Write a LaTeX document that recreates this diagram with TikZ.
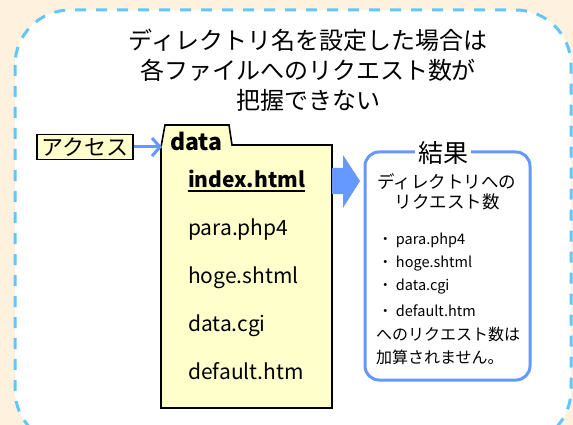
\documentclass[tikz,border=0pt]{standalone}
\usepackage{fontspec}
\setmainfont{Noto Sans CJK JP}
\usetikzlibrary{arrows.meta}
\definecolor{bgc}{HTML}{FEF2DF}
\definecolor{dashc}{HTML}{62C6F8}
\definecolor{bluec}{HTML}{6699FF}
\definecolor{yelc}{HTML}{FFFFCC}
\tikzset{
  txt/.style={inner sep=0pt},
  fname/.style={txt, anchor=base west, font=\fontsize{21}{21}\selectfont},
  litem/.style={txt, anchor=west, font=\fontsize{14.5}{14.5}\selectfont},
  lnote/.style={txt, anchor=west, font=\fontsize{16}{16}\selectfont},
}
\begin{document}
\begin{tikzpicture}[x=1pt,y=-1pt]
\fill[bgc] (0,0) rectangle (573,425);
\useasboundingbox (0,0) rectangle (573,425);
\begin{scope}
\clip (0,0) rectangle (573,425);
\draw[dashc, line width=3pt, fill=white, rounded corners=55pt, dash pattern=on 11pt off 10pt] (15,10) rectangle (571,445);
\end{scope}

\node[txt, align=center, font=\fontsize{24}{30}\selectfont] (title) at (308,70)
  {ディレクトリ名を設定した場合は\\各ファイルへのリクエスト数が\\把握できない};

\node[draw=black, line width=1.2pt, fill=yelc, inner sep=0pt, minimum width=96pt, minimum height=25pt,
  font=\fontsize{22}{22}\selectfont] (access) at (85,147) {アクセス};

\draw[black, line width=1.6pt, fill=yelc] (161,408) -- (161,147) -- (165,125) -- (229,125) -- (232,145) -- (332,145) -- (332,408) -- cycle;
\coordinate (tabL) at (162,147);
\draw[bluec, line width=3pt, -{Straight Barb[length=8pt,width=18pt,line width=3pt]}] (access.east) -- (tabL);

\node[txt, anchor=base west, font=\bfseries\fontsize{23}{23}\selectfont] (dname) at (170,150) {data};

\node[fname, font=\bfseries\fontsize{21}{21}\selectfont] (f1) at (188,187) {index.html};
\draw[line width=2pt] ([yshift=-4pt]f1.base west) -- ([yshift=-4pt]f1.base east);
\node[fname] (f2) at (188,235) {para.php4};
\node[fname] (f3) at (188,283) {hoge.shtml};
\node[fname] (f4) at (188,331) {data.cgi};
\node[fname] (f5) at (188,379) {default.htm};

\fill[bluec] (332,168) -- (343,168) -- (343,155) -- (360,181) -- (343,208) -- (343,194) -- (332,194) -- cycle;

\node[draw=bluec, line width=3pt, rounded corners=14pt, fill=white, minimum width=165pt, minimum height=228pt] (result) at (447.5,266) {};
\node[fill=white, inner xsep=3pt, inner ysep=0pt, font=\fontsize{25}{25}\selectfont] (kekka) at (443,153) {結果};

\node[txt, align=center, font=\fontsize{17.5}{20}\selectfont] (rtitle) at (447,192) {ディレクトリへの\\リクエスト数};

\node[litem] (l1) at (378,240) {・ para.php4};
\node[litem] (l2) at (378,263.5) {・ hoge.shtml};
\node[litem] (l3) at (378,287) {・ data.cgi};
\node[litem] (l4) at (378,310.5) {・ default.htm};
\node[lnote] (n1) at (376,334) {へのリクエスト数は};
\node[lnote] (n2) at (376,357) {加算されません。};
\end{tikzpicture}
\end{document}
